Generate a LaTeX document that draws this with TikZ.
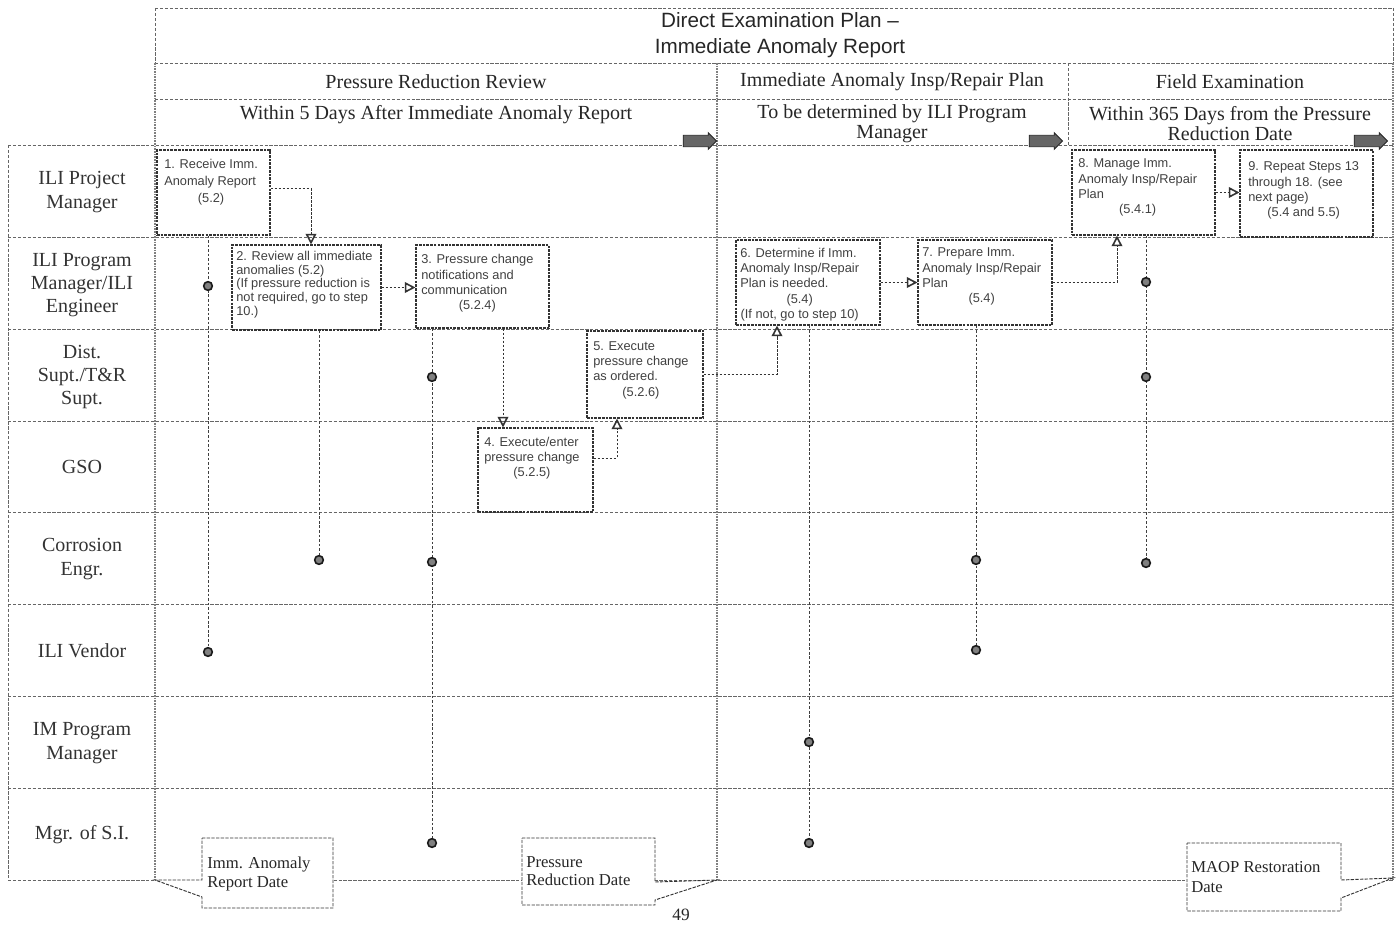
\documentclass[tikz,border=0pt]{standalone}
\usepackage{fontspec}
\setmainfont{Liberation Serif}
\newfontfamily\sansf{Liberation Sans}
\usetikzlibrary{arrows.meta,calc,fit,shapes.arrows}

\begin{document}
\begin{tikzpicture}[x=0.75pt,y=-0.75pt,
  grid/.style={draw=black!60, line width=0.6pt, dash pattern=on 2.5pt off 1.2pt},
  border/.style={draw=black!50, line width=1.8pt, dash pattern=on 1.2pt off 0.8pt},
  stepbox/.style={draw=black!80, line width=0.8pt, dash pattern=on 2pt off 0.8pt, inner sep=0pt},
  boxtext/.style={font=\sansf\fontsize{9.6}{11.5}\selectfont, text=black!75, inner sep=0pt, align=left, anchor=north west},
  flow/.style={draw=black!80, line width=0.7pt, dash pattern=on 2pt off 1pt, -{Triangle[open,length=8pt,width=8pt,line width=1.2pt]}},
  info/.style={draw=black!75, line width=0.7pt, dash pattern=on 2pt off 1.4pt},
  dot/.style={circle, draw=black!90, line width=1.2pt, fill=black!50, minimum size=6.5pt, inner sep=0pt},
  lanelabel/.style={font=\fontsize{15}{17.5}\selectfont, align=center, text=black!80},
  hdr/.style={font=\fontsize{15}{15}\selectfont, align=center, text=black!85},
  nextarrow/.style={shape=single arrow, draw=black!85, fill=black!60, line width=0.6pt, minimum height=25pt, minimum width=12pt, single arrow head extend=2pt, inner xsep=0pt, inner ysep=3pt, font=\fontsize{4}{4}\selectfont},
  callout/.style={draw=black!80, line width=0.7pt, dash pattern=on 2.5pt off 1pt, fill=white},
  calltext/.style={font=\fontsize{12.5}{14}\selectfont, align=left, anchor=north west, inner sep=0pt, text=black!85}
]
\useasboundingbox (0,0) rectangle (1399,927);

% ---------- frame and grid ----------
\draw[grid] (155,8) -- (1393,8);
\draw[grid] (155,8) -- (155,63);
\draw[grid] (1393,8) -- (1393,63);
\draw[grid] (155,63) -- (1393,63);
\draw[grid] (155,99) -- (1393,99);
\draw[grid] (8,145) -- (1393,145);
\foreach \yy in {237,329,421,512,604,696,788} \draw[grid] (8,\yy) -- (1393,\yy);
\draw[grid] (8,880) -- (1393,880);
\draw[grid] (8,145) -- (8,880);
\draw[grid] (1068,63) -- (1068,145);
\draw[border] (155,63) -- (155,880);
\draw[border] (717,63) -- (717,880);
\draw[border] (1393,63) -- (1393,880);

% ---------- headers ----------
\node[font=\sansf\fontsize{15.5}{19.5}\selectfont, align=center, text=black!85] (title) at (780,35) {Direct Examination Plan \textendash\\Immediate Anomaly Report};
\node[hdr] (ph1) at (436,82) {Pressure Reduction Review};
\node[hdr] (ph2) at (892,82) {Immediate Anomaly Insp/Repair Plan};
\node[hdr] (ph3) at (1230,82) {Field Examination};
\node[hdr] (sub1) at (436,115) {Within 5 Days After Immediate Anomaly Report};
\node[hdr] (sub2) at (892,124) {To be determined by ILI Program\\Manager};
\node[hdr] (sub3) at (1230,124) {Within 365 Days from the Pressure\\Reduction Date};
\node[nextarrow] (n1) at (697,141) {\phantom{n}};
\node[nextarrow] (n2) at (1043,141) {\phantom{n}};
\node[nextarrow] (n3) at (1368,141) {\phantom{n}};

% ---------- lane labels ----------
\node[lanelabel] (l1) at (82,192) {ILI Project\\Manager};
\node[lanelabel] (l2) at (82,285) {ILI Program\\Manager/ILI\\Engineer};
\node[lanelabel] (l3) at (82,377) {Dist.\\Supt./T\&R\\Supt.};
\node[lanelabel] (l4) at (82,467) {GSO};
\node[lanelabel] (l5) at (82,559) {Corrosion\\Engr.};
\node[lanelabel] (l6) at (82,651) {ILI Vendor};
\node[lanelabel] (l7) at (82,743) {IM Program\\Manager};
\node[lanelabel] (l8) at (82,835) {Mgr. of S.I.};

% ---------- step boxes ----------
\node[stepbox, fit={(157,150)(270,235)}] (b1) {};
\node[stepbox, fit={(232,245)(381,330)}] (b2) {};
\node[stepbox, fit={(416,245)(549,328)}] (b3) {};
\node[stepbox, fit={(478,428)(593,512)}] (b4) {};
\node[stepbox, fit={(587,331)(703,418)}] (b5) {};
\node[stepbox, fit={(736,240)(880,325)}] (b6) {};
\node[stepbox, fit={(918,240)(1052,325)}] (b7) {};
\node[stepbox, fit={(1072,150)(1215,235)}] (b8) {};
\node[stepbox, fit={(1240,150)(1373,237)}] (b9) {};

\node[boxtext, font=\sansf\fontsize{9.6}{12.5}\selectfont] (b1t) at (164,157) {\begin{tabular}{@{}l@{}}1. Receive Imm.\\Anomaly Report\\\multicolumn{1}{@{}c@{}}{(5.2)}\end{tabular}};
\node[boxtext, font=\sansf\fontsize{9.6}{10.2}\selectfont] (b2t) at (236,251) {\begin{tabular}{@{}l@{}}2. Review all immediate\\anomalies (5.2)\\(If pressure reduction is\\not required, go to step\\10.)\end{tabular}};
\node[boxtext] (b3t) at (421,253) {\begin{tabular}{@{}l@{}}3. Pressure change\\notifications and\\communication\\\multicolumn{1}{@{}c@{}}{(5.2.4)}\end{tabular}};
\node[boxtext] (b4t) at (484,435) {\begin{tabular}{@{}l@{}}4. Execute/enter\\pressure change\\\multicolumn{1}{@{}c@{}}{(5.2.5)}\end{tabular}};
\node[boxtext] (b5t) at (593,339) {\begin{tabular}{@{}l@{}}5. Execute\\pressure change\\as ordered.\\\multicolumn{1}{@{}c@{}}{(5.2.6)}\end{tabular}};
\node[boxtext] (b6t) at (740,246) {\begin{tabular}{@{}l@{}}6. Determine if Imm.\\Anomaly Insp/Repair\\Plan is needed.\\\multicolumn{1}{@{}c@{}}{(5.4)}\\\multicolumn{1}{@{}c@{}}{(If not, go to step 10)}\end{tabular}};
\node[boxtext] (b7t) at (922,246) {\begin{tabular}{@{}l@{}}7. Prepare Imm.\\Anomaly Insp/Repair\\Plan\\\multicolumn{1}{@{}c@{}}{(5.4)}\end{tabular}};
\node[boxtext] (b8t) at (1078,157) {\begin{tabular}{@{}l@{}}8. Manage Imm.\\Anomaly Insp/Repair\\Plan\\\multicolumn{1}{@{}c@{}}{(5.4.1)}\end{tabular}};
\node[boxtext] (b9t) at (1248,160) {\begin{tabular}{@{}l@{}}9. Repeat Steps 13\\through 18. (see\\next page)\\\multicolumn{1}{@{}c@{}}{(5.4 and 5.5)}\end{tabular}};

% ---------- flow connectors ----------
\draw[flow] ($(b1.east)+(0,-4)$) -| ($(b2.north)+(4.5,0)$);
\draw[flow] (b2.east) -- (b2.east -| b3.west);
\draw[flow] ($(b3.south)+(20.5,0)$) coordinate (c34) -- (c34 |- b4.north);
\draw[flow] ($(b4.east)+(0,-12)$) -| ($(b5.south)+(-28,0)$);
\draw[flow] (b5.east) -| ($(b6.south)+(-31,0)$);
\draw[flow] (b6.east) -- (b6.east -| b7.west);
\draw[flow] (b7.east) -| ($(b8.south)+(-26.5,0)$);
\draw[flow] (b8.east) -- (b8.east -| b9.west);

% ---------- information lines with dots ----------
\coordinate (v1a) at (208,286); \coordinate (v1b) at (208,652);
\coordinate (v2a) at (319,560);
\coordinate (v3a) at (432,377); \coordinate (v3b) at (432,562); \coordinate (v3c) at (432,843);
\coordinate (v6a) at (809,742); \coordinate (v6b) at (809,843);
\coordinate (v7a) at (976,560); \coordinate (v7b) at (976,650);
\coordinate (v8a) at (1146,282); \coordinate (v8b) at (1146,377); \coordinate (v8c) at (1146,563);

\draw[info] ($(b1.south)+(-5.5,0)$) -- (v1b);
\draw[info] ($(b2.south)+(12.5,0)$) -- (v2a);
\draw[info] ($(b3.south)+(-50.5,0)$) -- (v3c);
\draw[info] ($(b6.south)+(1,0)$) -- (v6b);
\draw[info] ($(b7.south)+(-9,0)$) -- (v7b);
\draw[info] ($(b8.south)+(2.5,0)$) -- (v8c);

\foreach \d in {v1a,v1b,v2a,v3a,v3b,v3c,v6a,v6b,v7a,v7b,v8a,v8b,v8c}
  \node[dot] (dot-\d) at (\d) {};

% ---------- date callouts ----------
\draw[callout] (202,838) -- (333,838) -- (333,908) -- (202,908) -- (202,897) -- (155,880) -- (202,880) -- cycle;
\node[calltext] (cb1) at (207,857) {Imm. Anomaly\\Report Date};
\draw[callout] (522,838) -- (655,838) -- (655,882) -- (717,880) -- (655,900) -- (655,905) -- (522,905) -- cycle;
\node[calltext] (cb2) at (526,856) {Pressure\\Reduction Date};
\draw[callout] (1187,843) -- (1341,843) -- (1341,880) -- (1393,878) -- (1341,898) -- (1341,911) -- (1187,911) -- cycle;
\node[calltext, font=\fontsize{12.5}{15.5}\selectfont] (cb3) at (1191,861) {MAOP Restoration\\Date};

\node[font=\fontsize{13}{14}\selectfont, text=black!85] (pg) at (681,915) {49};
\end{tikzpicture}
\end{document}
